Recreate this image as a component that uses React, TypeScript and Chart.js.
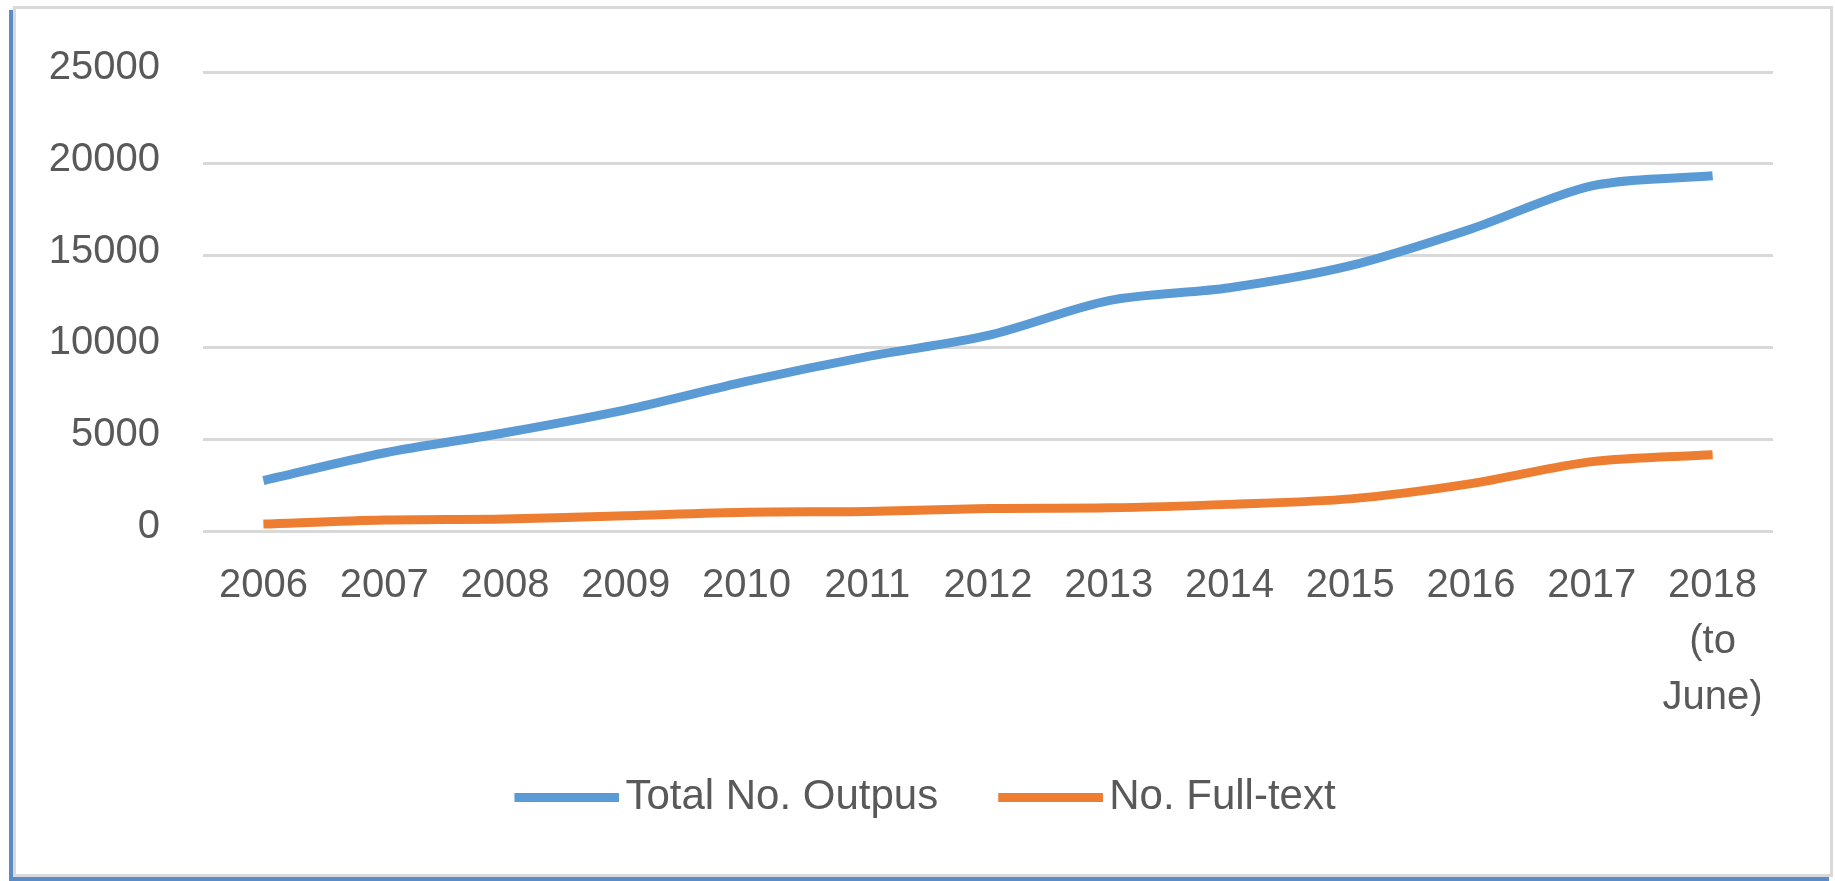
import React, { useEffect, useRef } from 'react';
import { Chart, registerables } from 'chart.js';

Chart.register(...registerables);

const categories: (string | string[])[] = [
  '2006', '2007', '2008', '2009', '2010', '2011', '2012',
  '2013', '2014', '2015', '2016', '2017', ['2018', '(to', 'June)'],
];
const seriesNames = ['Total No. Outpus', 'No. Full-text'];
const seriesColors = ['#5b9bd5', '#ed7d31'];
const totalOutputs = [2750, 4250, 5350, 6600, 8150, 9500, 10650, 12550, 13250, 14450, 16450, 18800, 19350];
const fullText = [380, 600, 650, 830, 1020, 1060, 1220, 1260, 1450, 1750, 2580, 3780, 4150];
const yTicks = [0, 5000, 10000, 15000, 20000, 25000];

const FONT = "'Liberation Sans', Arial, sans-serif";
const TEXT = '#595959';
const LINE_W = 9;

// legend swatch: a 105px line placed so it ends close to the legend text
function legendSwatch(color: string): HTMLCanvasElement {
  const c = document.createElement('canvas');
  c.width = 120;
  c.height = LINE_W;
  const ctx = c.getContext('2d')!;
  ctx.fillStyle = color;
  ctx.fillRect(15, 0, 105, LINE_W);
  return c;
}

const legendShift = {
  id: 'legendShift',
  afterLayout(chart: any) {
    const l = chart.legend;
    if (l) {
      l.left += 14;
      l.right += 14;
    }
  },
};

export default function App() {
  const ref = useRef<HTMLCanvasElement | null>(null);

  useEffect(() => {
    if (!ref.current) return;
    const chart = new Chart(ref.current, {
      type: 'line',
      data: {
        labels: categories,
        datasets: [
          {
            label: seriesNames[0],
            data: totalOutputs,
            borderColor: seriesColors[0],
            backgroundColor: seriesColors[0],
            borderWidth: LINE_W,
            pointRadius: 0,
            pointStyle: legendSwatch(seriesColors[0]) as any,
            tension: 0.3,
          },
          {
            label: seriesNames[1],
            data: fullText,
            borderColor: seriesColors[1],
            backgroundColor: seriesColors[1],
            borderWidth: LINE_W,
            pointRadius: 0,
            pointStyle: legendSwatch(seriesColors[1]) as any,
            tension: 0.3,
          },
        ],
      },
      options: {
        responsive: false,
        animation: false,
        layout: { padding: { left: 33, right: 57, top: 63, bottom: 46 } },
        plugins: {
          tooltip: { enabled: false },
          legend: {
            position: 'bottom',
            labels: {
              usePointStyle: true,
              pointStyleWidth: 90,
              padding: 60,
              color: TEXT,
              font: { family: FONT, size: 42 },
            },
          },
        },
        scales: {
          x: {
            offset: true,
            grid: { display: false, drawTicks: false },
            border: { display: false },
            ticks: {
              color: TEXT,
              padding: 27,
              maxRotation: 0,
              autoSkip: false,
              font: { family: FONT, size: 40, lineHeight: 1.4 },
            },
            afterFit: (scale: any) => { scale.height = 185; },
          },
          y: {
            min: yTicks[0],
            max: yTicks[yTicks.length - 1],
            grid: { color: '#d9d9d9', lineWidth: 3, drawTicks: false },
            border: { display: false },
            ticks: {
              stepSize: yTicks[1] - yTicks[0],
              color: TEXT,
              padding: 43,
              labelOffset: -4,
              font: { family: FONT, size: 40, lineHeight: 0.5 },
              callback: (v: any) => String(v),
            },
            afterFit: (scale: any) => { scale.width = 154; },
          },
        },
      },
      plugins: [legendShift],
    });
    return () => chart.destroy();
  }, []);

  return (
    <div style={{ position: 'absolute', left: 0, top: 0, width: 1835, height: 881, background: '#fff', overflow: 'hidden' }}>
      <div
        style={{
          position: 'absolute',
          left: 13,
          top: 6,
          width: 1820,
          height: 871,
          boxSizing: 'border-box',
          border: '3px solid #d9d9d9',
          boxShadow: '-4px 4px 0 #5b8cc8',
          background: '#fff',
        }}
      />
      <canvas
        ref={ref}
        width={1814}
        height={865}
        style={{ position: 'absolute', left: 16, top: 9, width: 1814, height: 865 }}
      />
    </div>
  );
}
